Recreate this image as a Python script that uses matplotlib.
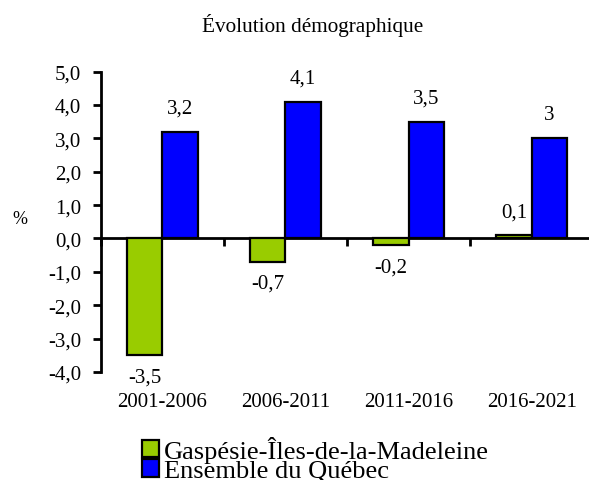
import matplotlib
matplotlib.use("Agg")
import matplotlib.pyplot as plt
import numpy as np
from matplotlib.patches import Patch

periods = ["2001-2006", "2006-2011", "2011-2016", "2016-2021"]
gaspesie = [-3.5, -0.7, -0.2, 0.1]
quebec = [3.2, 4.1, 3.5, 3.0]
gaspesie_labels = ["-3,5", "-0,7", "-0,2", "0,1"]
quebec_labels = ["3,2", "4,1", "3,5", "3"]
series_names = ["Gaspésie-Îles-de-la-Madeleine", "Ensemble du Québec"]
yticks = [-4, -3, -2, -1, 0, 1, 2, 3, 4, 5]

GREEN = "#99CC00"
BLUE = "#0000FF"

plt.rcParams["font.family"] = ["Liberation Serif", "DejaVu Serif"]

W, H = 589, 481
fig = plt.figure(figsize=(W / 100, H / 100), dpi=100)
ax = fig.add_axes([100.5 / W, 108 / H, 493 / W, 300.5 / H])

x = np.arange(len(periods))
bw = 0.288
b1 = ax.bar(x - bw / 2, gaspesie, bw, color=GREEN, edgecolor="black", linewidth=1.6)
b2 = ax.bar(x + bw / 2, quebec, bw, color=BLUE, edgecolor="black", linewidth=1.6)

# étiquettes de valeurs
for rects, vals, labs in [(b1, gaspesie, gaspesie_labels), (b2, quebec, quebec_labels)]:
    for rect, val, lab in zip(rects, vals, labs):
        cx = rect.get_x() + rect.get_width() / 2
        if val < 0:
            ax.annotate(lab, (cx, val), xytext=(0, -12), textcoords="offset pixels",
                        ha="center", va="top", fontsize=15)
        else:
            ax.annotate(lab, (cx, val), xytext=(0, 14), textcoords="offset pixels",
                        ha="center", va="bottom", fontsize=15)

ax.set_xlim(-0.5, 3.5)
ax.set_ylim(-4, 5)
ax.set_yticks(yticks)
ax.set_yticklabels([f"{v:.1f}".replace(".", ",") for v in yticks], fontsize=15)
ax.set_xticks(x)
ax.set_xticklabels(periods, fontsize=15)
ax.tick_params(axis="x", length=0, pad=14.5)
ax.tick_params(axis="y", direction="out", length=5.8, width=2, pad=8)
for s in ["top", "right", "bottom"]:
    ax.spines[s].set_visible(False)
ax.spines["left"].set_linewidth(2)

# axe horizontal au niveau zéro
sec = ax.secondary_xaxis(4 / 9)
sec.set_xticks([-0.5, 0.5, 1.5, 2.5, 3.5])
sec.set_xticklabels([])
sec.tick_params(direction="out", length=5.8, width=2)
sec.spines["bottom"].set_linewidth(2)

fig.text(313 / W, 1 - 32 / H, "Évolution démographique", ha="center", va="baseline", fontsize=15.3)
fig.text(20 / W, 1 - 219 / H, "%", ha="center", va="center", fontsize=13)

handles = [Patch(facecolor=GREEN, edgecolor="black", linewidth=1.6),
           Patch(facecolor=BLUE, edgecolor="black", linewidth=1.6)]
fig.legend(handles, series_names, loc="upper left", bbox_to_anchor=(142 / W, 1 - 437 / H),
           frameon=False, fontsize=19, handlelength=0.66, handleheight=0.64,
           handletextpad=0.18, labelspacing=-0.14, borderpad=0, borderaxespad=0)

fig.savefig("out.png", dpi=100)
